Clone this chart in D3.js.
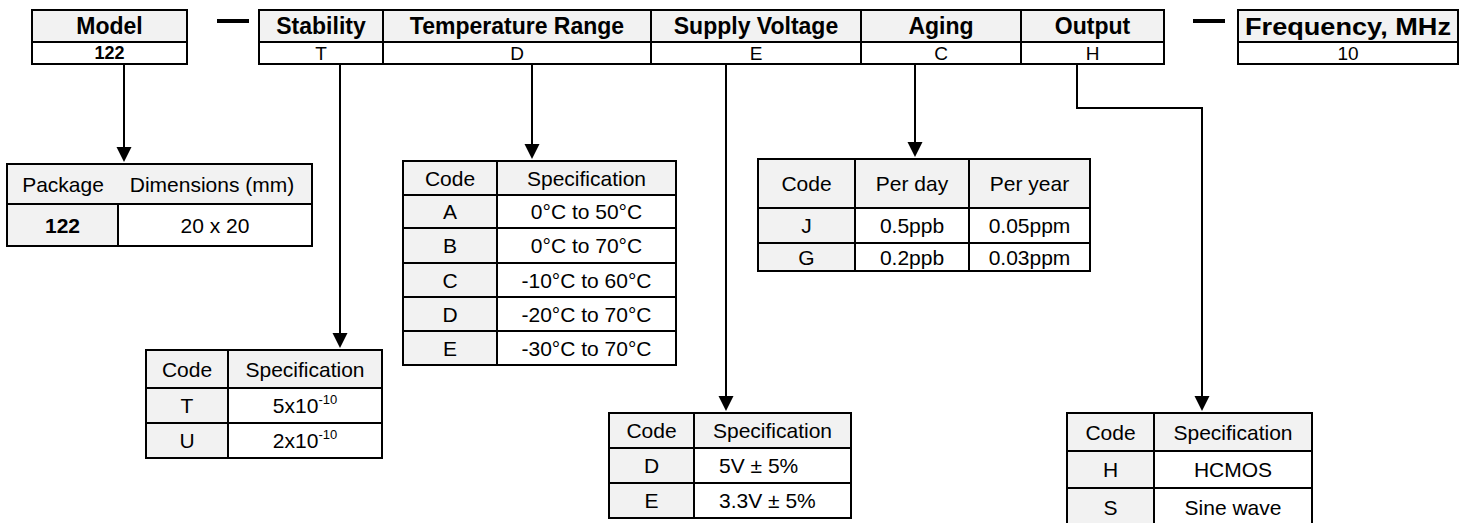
<!DOCTYPE html>
<html>
<head>
<meta charset="utf-8">
<script src="https://cdn.jsdelivr.net/npm/d3@7"></script>
<style>
  body { margin: 0; background: #fff; }
  svg { display: block; font-family: Arial, "Liberation Sans", sans-serif; }
</style>
</head>
<body>
<div id="chart"></div>
<script>
// ---- data ----
var modelTitle = "Model";
var modelValue = "122";
var fieldTitles = ["Stability", "Temperature Range", "Supply Voltage", "Aging", "Output"];
var fieldCodes = ["T", "D", "E", "C", "H"];
var freqTitle = "Frequency, MHz";
var freqValue = "10";

var packageHead = ["Package", "Dimensions (mm)"];
var packageRows = [["122", "20 x 20"]];

var specHead = ["Code", "Specification"];
var stabilityRows = [["T", "5x10", "-10"], ["U", "2x10", "-10"]];
var temperatureRows = [
  ["A", "0°C to 50°C"],
  ["B", "0°C to 70°C"],
  ["C", "-10°C to 60°C"],
  ["D", "-20°C to 70°C"],
  ["E", "-30°C to 70°C"]
];
var voltageRows = [["D", "5V ± 5%"], ["E", "3.3V ± 5%"]];
var agingHead = ["Code", "Per day", "Per year"];
var agingRows = [["J", "0.5ppb", "0.05ppm"], ["G", "0.2ppb", "0.03ppm"]];
var outputRows = [["H", "HCMOS"], ["S", "Sine wave"]];

// ---- layout ----
var W = 1466, H = 523;
var GRAY = "#f2f2f2";
var BORDER = 2;

var svg = d3.select("#chart").append("svg")
  .attr("width", W)
  .attr("height", H)
  .attr("viewBox", "0 0 " + W + " " + H);

// generic table: cols/rows are edge positions, body is an array of row arrays
function drawTable(opt) {
  var g = svg.append("g");
  var x = d3.scaleOrdinal(d3.range(opt.cols.length), opt.cols);
  var y = d3.scaleOrdinal(d3.range(opt.rows.length), opt.rows);
  var ncol = opt.cols.length - 1;
  var cells = [];

  // header row
  if (opt.head) {
    if (opt.headSpan) {
      cells.push({ r: 0, c0: 0, c1: ncol, fill: GRAY, texts: opt.head.map(function(t, i) {
        return { t: t, cx: opt.headSpan[i] };
      }), size: opt.headSize || opt.size, bold: opt.headBold });
    } else {
      opt.head.forEach(function(t, i) {
        cells.push({ r: 0, c0: i, c1: i + 1, fill: GRAY, texts: [{ t: t }],
          size: opt.headSize || opt.size, bold: opt.headBold, fit: opt.headFit });
      });
    }
  }
  var r0 = opt.head ? 1 : 0;
  opt.body.forEach(function(row, ri) {
    for (var ci = 0; ci < ncol; ci++) {
      var sup = (opt.sup && ci === 1) ? row[2] : null;
      cells.push({
        r: ri + r0, c0: ci, c1: ci + 1,
        fill: (ci === 0 && opt.grayCode) ? GRAY : "#fff",
        texts: [{ t: row[ci], sup: sup }],
        size: opt.size,
        bold: (ci === 0 && opt.boldCode) || opt.bodyBold,
        left: (ci > 0 && opt.leftPad) ? opt.leftPad : null
      });
    }
  });

  var cell = g.selectAll("g.cell")
    .data(cells)
    .enter()
    .append("g")
    .attr("class", "cell");

  cell.append("rect")
    .attr("x", function(d) { return x(d.c0); })
    .attr("y", function(d) { return y(d.r); })
    .attr("width", function(d) { return x(d.c1) - x(d.c0); })
    .attr("height", function(d) { return y(d.r + 1) - y(d.r); })
    .attr("fill", function(d) { return d.fill; })
    .attr("stroke", "#000")
    .attr("stroke-width", BORDER);

  cell.each(function(d) {
    var sel = d3.select(this);
    var cy = (y(d.r) + y(d.r + 1)) / 2;
    d.texts.forEach(function(tt) {
      var cx = tt.cx != null ? tt.cx : (x(d.c0) + x(d.c1)) / 2;
      var anchor = "middle";
      if (d.left != null) { cx = x(d.c0) + d.left; anchor = "start"; }
      var txt = sel.append("text")
        .attr("x", cx)
        .attr("y", cy)
        .attr("dy", "0.36em")
        .attr("text-anchor", anchor)
        .attr("font-size", d.size)
        .attr("font-weight", d.bold ? "bold" : "normal")
        .attr("fill", "#000");
      if (d.fit) {
        // the source stretches this title to fill its box
        txt.attr("textLength", d.fit).attr("lengthAdjust", "spacingAndGlyphs");
      }
      txt.append("tspan").text(tt.t);
      if (tt.sup) {
        txt.append("tspan")
          .attr("font-size", Math.round(d.size * 0.6))
          .attr("dy", -d.size * 0.42)
          .text(tt.sup);
      }
    });
  });
  return g;
}

// ---- top code row ----
var topRows = [10, 42, 64];
drawTable({ cols: [32, 187], rows: topRows, head: [modelTitle], body: [[modelValue]],
  size: 18, headSize: 23, headBold: true, bodyBold: true });
drawTable({ cols: [259, 383, 651, 861, 1021, 1164], rows: topRows, head: fieldTitles, body: [fieldCodes],
  size: 19, headSize: 23, headBold: true });
drawTable({ cols: [1238, 1458], rows: topRows, head: [freqTitle], body: [[freqValue]],
  size: 19, headSize: 24, headBold: true, headFit: 206 });

// separating dashes
var dashes = [[217, 249], [1193, 1225]];
svg.selectAll("line.dash")
  .data(dashes)
  .enter()
  .append("line")
  .attr("class", "dash")
  .attr("x1", function(d) { return d[0]; })
  .attr("x2", function(d) { return d[1]; })
  .attr("y1", 21)
  .attr("y2", 21)
  .attr("stroke", "#000")
  .attr("stroke-width", 4);

// ---- detail tables ----
drawTable({ cols: [7, 118, 312], rows: [164, 204, 246], head: packageHead, headSpan: [63, 212],
  body: packageRows, size: 21, grayCode: true, boldCode: true });
drawTable({ cols: [146, 228, 382], rows: [350, 388, 423, 458], head: specHead,
  body: stabilityRows, size: 21, grayCode: true, sup: true });
drawTable({ cols: [403, 497, 676], rows: [161, 195, 228, 263, 297, 331, 365], head: specHead,
  body: temperatureRows, size: 21, grayCode: true });
drawTable({ cols: [609, 694, 851], rows: [413, 448, 483, 518], head: specHead,
  body: voltageRows, size: 21, grayCode: true, leftPad: 25 });
drawTable({ cols: [758, 855, 969, 1090], rows: [159, 208, 243, 271], head: agingHead,
  body: agingRows, size: 21, grayCode: true });
drawTable({ cols: [1067, 1154, 1312], rows: [413, 451, 488, 526], head: specHead,
  body: outputRows, size: 21, grayCode: true });

// ---- connectors ----
var connectors = [
  [[124, 64], [124, 162]],
  [[340, 64], [340, 348]],
  [[532, 64], [532, 159]],
  [[726, 64], [726, 411]],
  [[915, 64], [915, 157]],
  [[1077, 64], [1077, 108], [1202, 108], [1202, 411]]
];
var line = d3.line();
svg.selectAll("path.conn")
  .data(connectors)
  .enter()
  .append("path")
  .attr("class", "conn")
  .attr("d", function(d) {
    var pts = d.slice();
    var last = pts[pts.length - 1];
    pts[pts.length - 1] = [last[0], last[1] - 10];
    return line(pts);
  })
  .attr("fill", "none")
  .attr("stroke", "#000")
  .attr("stroke-width", 2);

svg.selectAll("path.head")
  .data(connectors)
  .enter()
  .append("path")
  .attr("class", "head")
  .attr("d", function(d) {
    var p = d[d.length - 1];
    return "M" + (p[0] - 7.5) + "," + (p[1] - 15) + "L" + (p[0] + 7.5) + "," + (p[1] - 15) + "L" + p[0] + "," + p[1] + "Z";
  })
  .attr("fill", "#000");
</script>
</body>
</html>
